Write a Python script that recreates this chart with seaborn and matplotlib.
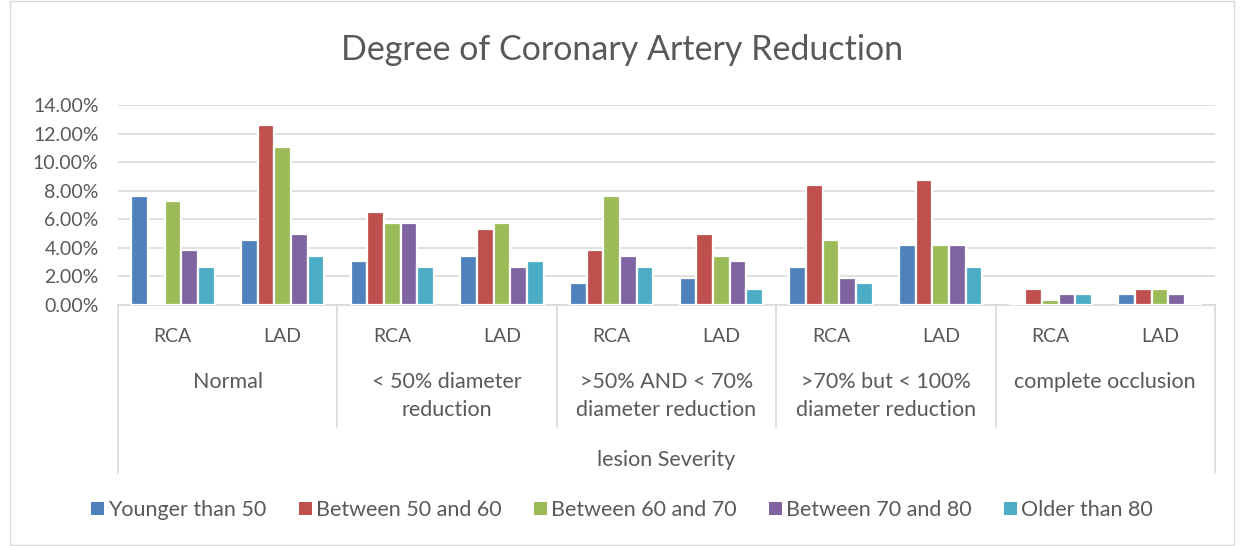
import pandas as pd
import seaborn as sns
import matplotlib.pyplot as plt
from matplotlib.patches import Patch, Rectangle
from matplotlib.lines import Line2D
from matplotlib.ticker import FuncFormatter

# dados (percentual)
severity = ["Normal", "< 50% diameter\nreduction", ">50% AND < 70%\ndiameter reduction",
            ">70% but < 100%\ndiameter reduction", "complete occlusion"]
arteries = ["RCA", "LAD"]
ages = ["Younger than 50", "Between 50 and 60", "Between 60 and 70",
        "Between 70 and 80", "Older than 80"]

younger_50 = [7.63, 4.58, 3.05, 3.44, 1.53, 1.91, 2.67, 4.20, 0.00, 0.76]
between_50_60 = [0.00, 12.60, 6.49, 5.34, 3.82, 4.96, 8.40, 8.78, 1.15, 1.15]
between_60_70 = [7.25, 11.07, 5.73, 5.73, 7.63, 3.44, 4.58, 4.20, 0.38, 1.15]
between_70_80 = [3.82, 4.96, 5.73, 2.67, 3.44, 3.05, 1.91, 4.20, 0.76, 0.76]
older_80 = [2.67, 3.44, 2.67, 3.05, 2.67, 1.15, 1.53, 2.67, 0.76, 0.00]

colors = ["#4F81BD", "#C0504D", "#9BBB59", "#8064A2", "#4BACC6"]
TXT = "#595959"
GRID = "#D9D9D9"

series = [younger_50, between_50_60, between_60_70, between_70_80, older_80]
keys = [f"{s}|{a}" for s in severity for a in arteries]
rows = []
for age, vals in zip(ages, series):
    for k, v in zip(keys, vals):
        rows.append({"cat": k, "age": age, "value": v})
df = pd.DataFrame(rows)

sns.set_style("white")
plt.rcParams["font.family"] = ["Lato", "DejaVu Sans"]

fig = plt.figure(figsize=(12.44, 5.46), dpi=100)
ax = fig.add_axes([118 / 1244, 1 - 305 / 546, (1215 - 118) / 1244, 200 / 546])

sns.barplot(data=df, x="cat", y="value", hue="age", order=keys, hue_order=ages,
            palette=colors, saturation=1, width=0.76, edgecolor="white", linewidth=1.6,
            legend=False, ax=ax, zorder=3)

ax.set_ylim(0, 14)
ax.set_xlim(-0.5, len(keys) - 0.5)
ax.set_yticks(range(0, 15, 2))
ax.yaxis.set_major_formatter(FuncFormatter(lambda v, p: f"{v:.2f}%"))
ax.grid(axis="y", color=GRID, lw=1.2, zorder=0)
ax.set_xticks([])
ax.set_xlabel("")
ax.set_ylabel("")
ax.tick_params(axis="y", labelsize=14, labelcolor=TXT, length=0, pad=14)
for sp in ["top", "right", "left"]:
    ax.spines[sp].set_visible(False)
ax.spines["bottom"].set_color(GRID)
ax.spines["bottom"].set_linewidth(1.2)

# eixo x em vários níveis
tr = ax.get_xaxis_transform()
for i, k in enumerate(keys):
    ax.text(i, -31 / 200, k.split("|")[1], transform=tr, ha="center", va="center",
            fontsize=14, color=TXT)
for j, s in enumerate(severity):
    for n, line in enumerate(s.split("\n")):
        ax.text(2 * j + 0.5, -(77 + 28 * n) / 200, line, transform=tr, ha="center",
                va="center", fontsize=15.5, color=TXT)
for j in range(len(severity) + 1):
    xpos = 2 * j - 0.5
    bottom = -168 / 200 if j in (0, len(severity)) else -122 / 200
    ax.add_line(Line2D([xpos, xpos], [0, bottom], transform=tr, color=GRID,
                       lw=1.2, clip_on=False))
ax.text(4.5, -155 / 200, "lesion Severity", transform=tr, ha="center", va="center",
        fontsize=15.5, color=TXT)

fig.text(0.5, 1 - 50 / 546, "Degree of Coronary Artery Reduction", ha="center",
         va="center", fontsize=24.5, color=TXT)

handles = [Patch(facecolor=c, edgecolor="none", label=a) for c, a in zip(colors, ages)]
leg = fig.legend(handles=handles, loc="center", bbox_to_anchor=(0.5, 1 - 510 / 546),
                 ncol=5, frameon=False, fontsize=15.5, handlelength=0.6,
                 handleheight=0.6, handletextpad=0.2, columnspacing=1.5)
for t in leg.get_texts():
    t.set_color(TXT)

fig.patches.append(Rectangle((10 / 1244, 0.002), 1 - 20 / 1244, 0.996,
                             transform=fig.transFigure, fill=False,
                             edgecolor=GRID, lw=1))

fig.savefig("out.png", dpi=100)
